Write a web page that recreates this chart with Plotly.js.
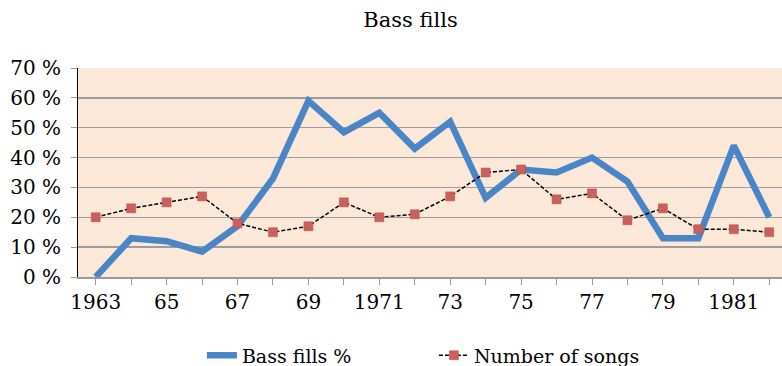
<!DOCTYPE html>
<html>
<head>
<meta charset="utf-8">
<script src="https://cdn.plot.ly/plotly-3.0.1.min.js"></script>
<style>html,body{margin:0;padding:0;background:#fff;}#chart{width:782px;height:366px;}</style>
</head>
<body>
<div id="chart"></div>
<script>
const years = [1963,1964,1965,1966,1967,1968,1969,1970,1971,1972,1973,1974,1975,1976,1977,1978,1979,1980,1981,1982];
const tickLabels = ["1963","","65","","67","","69","","1971","","73","","75","","77","","79","","1981",""];
const bassFills = [0,13,12,8.5,17,33,59,48.5,55,43,52,26.5,36,35,40,32,13,13,44,20];
const numberOfSongs = [20,23,25,27,18,15,17,25,20,21,27,35,36,26,28,19,23,16,16,15];

const font = "DejaVu Serif, Liberation Serif, serif";

const traces = [
  {
    x: years, y: bassFills, name: "Bass fills %", type: "scatter", mode: "lines",
    line: {color: "#4a86c6", width: 6.5}
  },
  {
    x: years, y: numberOfSongs, name: "Number of songs", type: "scatter", mode: "lines+markers",
    line: {color: "#000000", width: 1.5, dash: "4px,2px"},
    marker: {symbol: "square", size: 9, color: "#c9605c", line: {color: "#b84f4b", width: 0.5}}
  }
];

const layout = {
  width: 782, height: 366,
  margin: {l: 78, r: 0, t: 68, b: 89, autoexpand: false},
  paper_bgcolor: "#ffffff",
  plot_bgcolor: "#fce8d9",
  font: {family: font, size: 19, color: "#000"},
  title: {text: "Bass fills", font: {family: font, size: 21, color: "#000"}, x: 0.525, xanchor: "center", y: 0.945, yanchor: "middle"},
  showlegend: true,
  legend: {orientation: "h", x: 0.176, xanchor: "left", y: -0.375, yanchor: "middle",
           font: {family: font, size: 19}, entrywidth: 187, entrywidthmode: "pixels"},
  xaxis: {
    type: "linear", range: [1962.5, 1982.36],
    tickvals: years, ticktext: tickLabels,
    ticks: "outside", ticklen: 6, tickcolor: "#999", tickwidth: 1,
    showgrid: false, zeroline: false,
    showline: true, linecolor: "#999", linewidth: 1.5,
    tickfont: {family: font, size: 20}, automargin: false, fixedrange: true
  },
  yaxis: {
    range: [0, 70], dtick: 10, ticksuffix: " %",
    ticks: "outside", ticklen: 6, tickcolor: "#999",
    showgrid: true, gridcolor: "#9c9c9c", gridwidth: 1.5,
    zeroline: false, showline: true, linecolor: "#000", linewidth: 1,
    tickfont: {family: font, size: 20}, ticklabelstandoff: 6, automargin: false, fixedrange: true
  }
};

Plotly.newPlot("chart", traces, layout, {displayModeBar: false, staticPlot: true});
</script>
</body>
</html>
